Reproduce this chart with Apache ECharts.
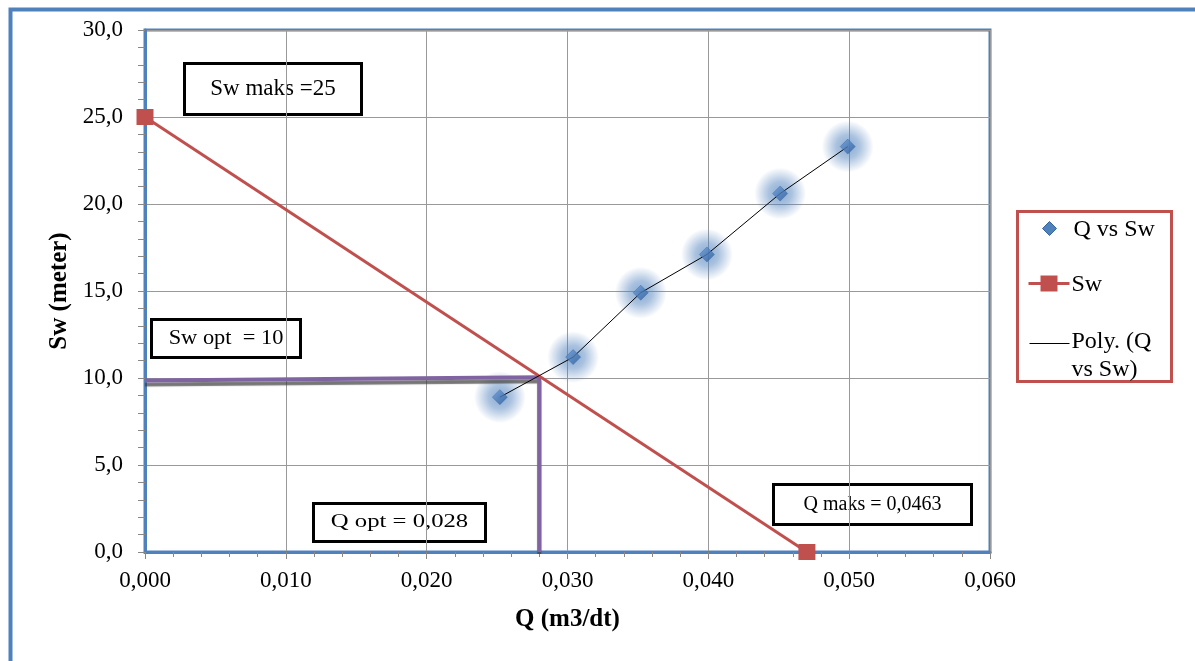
<!DOCTYPE html>
<html>
<head>
<meta charset="utf-8">
<script src="https://cdn.jsdelivr.net/npm/echarts@6/dist/echarts.min.js"></script>
<style>
html,body{margin:0;padding:0;background:#fff;}
#c{width:1195px;height:661px;}
</style>
</head>
<body>
<div id="c"></div>
<script>
// Data
const qValues = [0.0252, 0.0304, 0.0352, 0.0399, 0.0451, 0.0499];
const swValues = [8.9, 11.2, 14.9, 17.1, 20.6, 23.3];
const swLineQ = [0, 0.047];
const swLineSw = [25, 0];
const optQ = [0, 0.028, 0.028];
const optSw = [9.85, 10.05, 0];
const seriesNames = ['Q vs Sw', 'Sw', 'Poly. (Q\nvs Sw)'];
const xTitle = 'Q (m3/dt)';
const yTitle = 'Sw (meter)';
const notes = ['Sw maks =25', 'Sw opt  = 10', 'Q opt = 0,028', 'Q maks = 0,0463'];

const zip = (a, b) => a.map((v, i) => [v, b[i]]);
const font = '"Liberation Serif", "Times New Roman", serif';
const blue = '#4f81bd', red = '#c0504d', purple = '#8064a2';

function box(x, y, w, h, text, size, sx) {
  return {
    type: 'group', left: x, top: y,
    children: [
      {type: 'rect', shape: {x: 0, y: 0, width: w, height: h}, style: {fill: '#fff', stroke: '#000', lineWidth: 3}},
      {type: 'text', x: w / 2, y: h / 2, scaleX: sx || 1, style: {text: text, font: size + 'px ' + font, fill: '#000', align: 'center', verticalAlign: 'middle'}}
    ]
  };
}

const chart = echarts.init(document.getElementById('c'));
chart.setOption({
  backgroundColor: '#fff',
  animation: false,
  grid: {left: 145, top: 30, width: 845, height: 522, show: true, borderColor: blue, borderWidth: 3, backgroundColor: 'transparent'},
  xAxis: {
    type: 'value', min: 0, max: 0.06, interval: 0.01,
    name: xTitle, nameLocation: 'middle', nameGap: 55,
    nameTextStyle: {fontFamily: font, fontSize: 25, fontWeight: 'bold', color: '#000'},
    axisLine: {show: true, lineStyle: {color: blue, width: 3}},
    axisTick: {show: true, length: 7, lineStyle: {color: '#888', width: 1}},
    minorTick: {show: true, splitNumber: 5, length: 5, lineStyle: {color: '#888'}},
    axisLabel: {fontFamily: font, fontSize: 23, color: '#000', margin: 17, formatter: v => v.toFixed(3).replace('.', ',')},
    splitLine: {show: true, lineStyle: {color: '#999', width: 1}}
  },
  yAxis: {
    type: 'value', min: 0, max: 30, interval: 5,
    name: yTitle, nameLocation: 'middle', nameGap: 72, nameRotate: 90,
    nameTextStyle: {fontFamily: font, fontSize: 25, fontWeight: 'bold', color: '#000'},
    axisLine: {show: true, lineStyle: {color: blue, width: 3}},
    axisTick: {show: true, length: 7, lineStyle: {color: '#888', width: 1}},
    minorTick: {show: true, splitNumber: 5, length: 7, lineStyle: {color: '#888'}},
    axisLabel: {fontFamily: font, fontSize: 23, color: '#000', margin: 22, formatter: v => v.toFixed(1).replace('.', ',')},
    splitLine: {show: true, lineStyle: {color: '#999', width: 1}}
  },
  series: [
    {
      name: 'glow', type: 'scatter', data: zip(qValues, swValues), symbol: 'circle', symbolSize: 52, z: 2, silent: true,
      itemStyle: {
        color: new echarts.graphic.RadialGradient(0.5, 0.5, 0.5, [
          {offset: 0, color: 'rgba(79,129,189,0.85)'},
          {offset: 0.45, color: 'rgba(79,129,189,0.6)'},
          {offset: 1, color: 'rgba(79,129,189,0)'}
        ])
      }
    },
    {
      name: 'opt', type: 'line', data: zip(optQ, optSw), symbol: 'none', z: 3,
      lineStyle: {color: purple, width: 4, shadowColor: 'rgba(60,60,60,0.7)', shadowBlur: 1, shadowOffsetY: 4}
    },
    {
      name: seriesNames[1], type: 'line', data: zip(swLineQ, swLineSw), symbol: 'rect', symbolSize: [17, 16], z: 4,
      lineStyle: {color: red, width: 3}, itemStyle: {color: red}
    },
    {
      name: seriesNames[2], type: 'line', data: zip(qValues, swValues), symbol: 'none', z: 5,
      lineStyle: {color: '#000', width: 1}
    },
    {
      name: seriesNames[0], type: 'scatter', data: zip(qValues, swValues), symbol: 'diamond', symbolSize: [15, 15], z: 6,
      itemStyle: {
        color: new echarts.graphic.LinearGradient(0, 0, 1, 1, [{offset: 0, color: '#6f9fd8'}, {offset: 1, color: '#2a5a9a'}]),
        borderColor: '#2f5f9f', borderWidth: 0.5
      }
    }
  ],
  graphic: [
    {type: 'rect', left: 8, top: 7, z: 100, shape: {x: 0, y: 0, width: 1300, height: 800}, style: {fill: null, stroke: blue, lineWidth: 4}},
    box(183, 62, 177, 51, notes[0], 23),
    box(150, 318, 149, 38, notes[1], 20, 1.12),
    box(312, 502, 172, 38, notes[2], 19, 1.3),
    box(772, 483, 198, 40, notes[3], 20),
    {
      type: 'group', left: 1016, top: 210, children: [
        {type: 'rect', shape: {x: 0, y: 0, width: 154, height: 170}, style: {fill: '#fff', stroke: red, lineWidth: 3}},
        {type: 'polygon', shape: {points: [[32, 10], [39, 17], [32, 24], [25, 17]]}, style: {fill: blue, stroke: '#3a6699', lineWidth: 1}},
        {type: 'text', x: 56, y: 18, style: {text: seriesNames[0], font: '24px ' + font, fill: '#000', verticalAlign: 'middle'}},
        {type: 'line', shape: {x1: 11, y1: 72, x2: 52, y2: 72}, style: {stroke: red, lineWidth: 3}},
        {type: 'rect', shape: {x: 23, y: 64, width: 17, height: 16}, style: {fill: red}},
        {type: 'text', x: 54, y: 73, style: {text: seriesNames[1], font: '24px ' + font, fill: '#000', verticalAlign: 'middle'}},
        {type: 'line', shape: {x1: 12, y1: 132, x2: 52, y2: 132}, style: {stroke: '#000', lineWidth: 1}},
        {type: 'text', x: 54, y: 116, style: {text: seriesNames[2], font: '24px ' + font, fill: '#000', verticalAlign: 'top', lineHeight: 28}}
      ]
    }
  ]
});
</script>
</body>
</html>
